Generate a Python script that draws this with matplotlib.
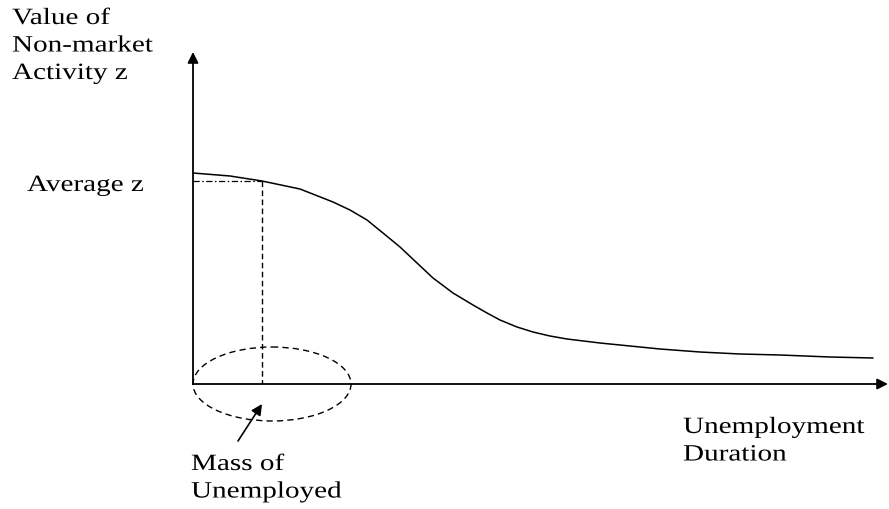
import matplotlib
matplotlib.use("Agg")
import matplotlib.pyplot as plt
from matplotlib.patches import Ellipse
from matplotlib import patheffects
from matplotlib.transforms import Affine2D

# Schematic coordinates (pixel-like units, y grows downward)
origin = (193, 385)
x_axis_end = 888
y_axis_end = 53

# Value of non-market activity z vs. unemployment duration
duration = [193, 230, 262, 300, 333, 350, 367, 383, 400, 417, 433, 453, 473,
            487, 500, 517, 533, 550, 567, 600, 630, 660, 700, 740, 780, 830, 873]
value_z = [174, 177, 182, 190, 203, 211, 221, 234, 248, 264, 279, 294, 306,
           314, 321, 328, 333, 337, 340, 344, 347, 350, 353, 355, 356, 358, 359]

avg_point = (262, 182)
mass_ellipse = dict(center=(272, 385), width=158, height=74)

y_label_lines = ["Value of", "Non-market", "Activity z"]
x_label_lines = ["Unemployment", "Duration"]
mass_label_lines = ["Mass of", "Unemployed"]
avg_label = "Average z"


class Stretch(patheffects.AbstractPathEffect):
    """Stretch text horizontally about its anchor (reference font is wide)."""
    def __init__(self, sx):
        super().__init__()
        self.sx = sx

    def draw_path(self, renderer, gc, tpath, affine, rgbFace=None):
        renderer.draw_path(gc, tpath, Affine2D().scale(self.sx, 1) + affine,
                           rgbFace)


fig = plt.figure(figsize=(8.89, 5.10), dpi=100)
ax = fig.add_axes([0, 0, 1, 1])
ax.set_xlim(0, 889)
ax.set_ylim(510, 0)
ax.axis("off")

font = dict(family="Liberation Serif", size=16.8, color="black",
            path_effects=[Stretch(1.25)])

# axes with arrows
ax.annotate("", xy=(x_axis_end, origin[1]), xytext=origin,
            arrowprops=dict(arrowstyle="-|>", mutation_scale=16, lw=1.3,
                            color="black", shrinkA=0, shrinkB=0))
ax.annotate("", xy=(origin[0], y_axis_end), xytext=origin,
            arrowprops=dict(arrowstyle="-|>", mutation_scale=16, lw=1.3,
                            color="black", shrinkA=0, shrinkB=0))

# curve
ax.plot(duration, value_z, color="black", lw=1.1, solid_capstyle="round",
        solid_joinstyle="round")

# dash-dot horizontal to average z
ax.plot([origin[0], avg_point[0]], [avg_point[1], avg_point[1]], color="black",
        lw=0.9, linestyle=(0, (5, 2, 1.2, 2)))
# dashed vertical
ax.plot([avg_point[0], avg_point[0]], [avg_point[1], origin[1]], color="black",
        lw=1.0, linestyle=(0, (4, 2.5)))

# dashed ellipse
ax.add_patch(Ellipse(mass_ellipse["center"], mass_ellipse["width"],
                     mass_ellipse["height"], fill=False, edgecolor="black",
                     lw=1.0, linestyle=(0, (4.5, 3))))

# arrow pointing to mass of unemployed
ax.annotate("", xy=(262, 405), xytext=(238, 442),
            arrowprops=dict(arrowstyle="-|>", mutation_scale=16, lw=1.2,
                            color="black", shrinkA=0, shrinkB=0))

# texts
for i, t in enumerate(y_label_lines):
    ax.text(12, 25 + 27.5 * i, t, va="baseline", ha="left", **font)
ax.text(27, 192, avg_label, va="baseline", ha="left", **font)
for i, t in enumerate(x_label_lines):
    ax.text(683, 434 + 27.5 * i, t, va="baseline", ha="left", **font)
for i, t in enumerate(mass_label_lines):
    ax.text(191, 471 + 27.5 * i, t, va="baseline", ha="left", **font)

fig.savefig("out.png", dpi=100)
